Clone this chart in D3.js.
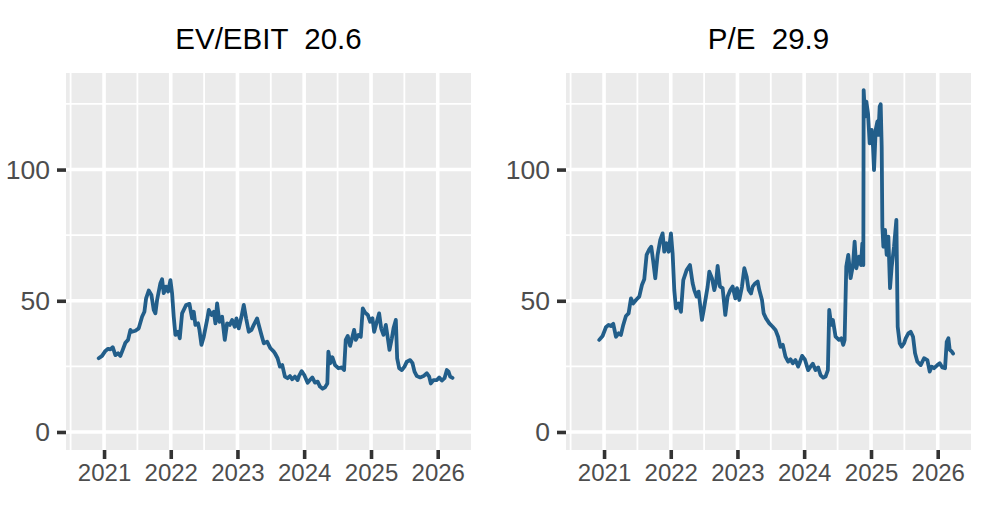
<!DOCTYPE html>
<html>
<head>
<meta charset="utf-8">
<script src="https://cdn.jsdelivr.net/npm/d3@7"></script>
<style>
  html, body { margin: 0; padding: 0; background: #ffffff; }
  svg { display: block; font-family: "Liberation Sans", Arial, sans-serif; }
</style>
</head>
<body>
<svg id="chart" width="1005" height="524"></svg>
<script>
// ---------------- data (time in decimal years) ----------------
const evYear = [2020.920,2020.970,2021.020,2021.060,2021.095,2021.130,2021.170,2021.210,2021.245,2021.280,
  2021.320,2021.360,2021.395,2021.420,2021.470,2021.520,2021.570,2021.605,2021.630,2021.670,
  2021.710,2021.745,2021.770,2021.795,2021.845,2021.870,2021.895,2021.930,2021.960,2021.995,
  2022.020,2022.045,2022.070,2022.110,2022.135,2022.170,2022.230,2022.280,2022.320,2022.345,
  2022.370,2022.410,2022.430,2022.460,2022.495,2022.545,2022.570,2022.610,2022.645,2022.670,
  2022.695,2022.730,2022.770,2022.810,2022.845,2022.885,2022.920,2022.960,2022.985,2023.020,
  2023.060,2023.095,2023.130,2023.170,2023.210,2023.245,2023.295,2023.320,2023.360,2023.395,
  2023.445,2023.495,2023.545,
  2023.562,2023.602,2023.637,2023.672,2023.712,2023.752,2023.787,2023.822,2023.862,2023.902,
  2023.922,2023.962,2024.002,2024.052,2024.087,2024.122,2024.162,2024.202,2024.237,2024.277,
  2024.312,2024.347,2024.362,2024.392,2024.422,2024.462,2024.512,2024.562,2024.597,2024.622,
  2024.652,2024.687,2024.722,2024.747,2024.772,2024.812,2024.847,2024.877,2024.912,2024.952,
  2024.987,2025.022,2025.047,2025.087,2025.122,2025.152,2025.187,2025.222,2025.252,2025.277,
  2025.312,2025.337,2025.372,2025.392,2025.422,2025.462,2025.502,2025.537,2025.587,2025.622,
  2025.652,2025.687,2025.737,2025.787,2025.837,2025.872,2025.897,2025.937,2025.987,2026.022,
  2026.062,2026.102,2026.137,2026.162,2026.187,2026.222];
const evValue = [28.1,29.0,30.9,31.7,31.5,32.3,29.3,30.0,29.0,31.3,
  34.0,35.1,38.9,38.2,38.6,39.5,43.9,45.8,50.9,53.9,
  52.2,46.5,45.2,50.3,56.7,58.2,52.9,55.4,53.5,57.9,
  52.9,43.9,37.0,38.2,35.7,45.2,48.4,48.8,43.3,45.8,
  40.8,41.4,38.9,33.2,36.3,42.7,46.5,44.6,45.8,41.4,
  49.0,42.0,43.9,35.1,41.4,40.8,42.7,40.1,43.3,39.5,
  43.9,48.4,43.3,38.2,38.9,40.8,43.3,40.8,37.0,33.8,
  34.4,31.9,30.6,
  30.0,28.1,24.9,25.5,21.1,20.5,21.3,20.1,21.1,19.8,
  21.3,23.2,21.7,18.8,19.8,20.8,18.8,19.2,17.3,16.5,
  17.0,18.5,30.6,26.2,28.5,25.5,24.3,24.6,23.6,35.1,
  36.6,32.8,36.3,38.9,35.1,37.0,36.3,47.1,45.5,44.6,
  42.0,43.3,38.2,42.0,45.2,39.5,37.0,40.8,35.7,31.3,
  35.7,39.5,42.7,28.1,24.3,23.6,24.9,26.8,27.4,26.2,
  23.0,21.3,20.8,21.3,22.4,21.1,18.5,19.8,19.8,20.8,
  19.6,20.5,23.6,23.0,21.1,20.6];

const peYear = [2020.928,2020.978,2021.028,2021.068,2021.103,2021.138,2021.178,2021.218,2021.253,2021.288,
  2021.328,2021.368,2021.403,2021.438,2021.478,2021.528,2021.568,2021.603,2021.638,2021.678,
  2021.708,2021.738,2021.768,2021.803,2021.843,2021.878,2021.903,2021.938,2021.968,2022.003,
  2022.028,2022.053,2022.078,2022.118,2022.153,2022.188,2022.238,2022.288,2022.328,2022.353,
  2022.388,2022.418,2022.438,2022.468,2022.503,2022.553,2022.578,2022.618,2022.653,2022.678,
  2022.703,2022.738,2022.778,2022.818,2022.853,2022.893,2022.928,2022.968,2022.993,2023.028,
  2023.068,2023.103,2023.138,2023.168,2023.203,2023.228,2023.268,2023.303,2023.328,2023.368,
  2023.393,2023.428,2023.478,2023.528,
  2023.570,2023.610,2023.645,2023.680,2023.720,2023.760,2023.795,2023.830,2023.870,2023.910,
  2023.930,2023.970,2024.010,2024.060,2024.095,2024.130,2024.170,2024.210,2024.245,2024.285,
  2024.320,2024.355,2024.375,2024.405,2024.430,2024.470,2024.520,2024.555,2024.585,2024.605,
  2024.630,2024.660,2024.695,2024.730,2024.755,2024.780,2024.820,2024.850,2024.870,2024.885,
  2024.890,2024.910,2024.930,2024.955,2024.980,2025.010,2025.030,2025.045,2025.070,2025.095,
  2025.110,2025.130,2025.145,2025.160,2025.170,2025.185,2025.210,2025.235,2025.260,2025.285,
  2025.310,2025.345,2025.380,2025.400,2025.430,2025.460,2025.495,2025.520,2025.560,2025.595,
  2025.630,2025.660,2025.695,2025.745,2025.795,2025.845,2025.880,2025.910,2025.945,2025.995,
  2026.030,2026.070,2026.110,2026.135,2026.160,2026.180,2026.210,2026.230];
const peValue = [35.1,36.6,39.9,40.8,40.4,41.2,36.3,37.6,37.0,40.8,
  44.2,45.2,50.9,49.0,50.3,51.6,56.0,58.2,67.5,69.6,
  70.6,64.9,58.6,67.5,73.2,75.7,68.7,71.9,68.7,75.7,
  68.1,54.1,47.1,49.0,45.8,57.9,61.7,63.6,56.7,54.1,
  51.6,53.5,49.0,42.7,47.8,55.4,61.1,58.6,54.1,56.7,
  63.3,55.4,54.8,44.6,51.6,54.1,55.4,50.9,54.8,50.3,
  55.4,62.4,59.2,54.1,52.8,55.4,56.7,57.3,54.1,50.3,
  45.2,43.3,41.4,40.1,
  38.9,36.3,32.5,33.2,28.7,26.8,27.7,26.2,27.4,24.9,
  26.2,29.0,27.7,23.6,24.9,26.0,23.6,24.6,21.7,20.7,
  21.1,23.6,46.5,40.8,42.7,36.3,35.1,35.7,33.2,35.1,
  63.0,67.5,58.6,63.6,72.5,62.4,66.8,63.6,71.9,63.6,
  130.3,120.2,125.9,121.4,110.0,115.1,108.7,99.8,115.1,118.3,
  113.2,124.0,124.9,108.7,78.2,70.6,77.0,67.5,74.4,54.8,
  63.0,70.6,80.8,40.1,33.8,32.5,33.8,35.7,37.6,38.2,
  36.3,30.0,26.8,25.5,28.1,27.4,23.0,24.9,24.3,25.5,
  26.2,24.6,24.3,34.4,35.7,31.3,30.7,29.9];

const panelTitles = ["EV/EBIT  20.6", "P/E  29.9"];
const yTickValues = [0, 50, 100];
const yMinorValues = [25, 75, 125];
const xTickYears = [2021, 2022, 2023, 2024, 2025, 2026];
const xTickLabels = ["2021", "2022", "2023", "2024", "2025", "2026"];
const xMinorYears = [2020.5, 2021.5, 2022.5, 2023.5, 2024.5, 2025.5];

// ---------------- helpers ----------------
function yearToDate(y) {
  const yr = Math.floor(y);
  const s = Date.UTC(yr, 0, 1), e = Date.UTC(yr + 1, 0, 1);
  return new Date(s + (y - yr) * (e - s));
}

const svg = d3.select("#chart");
const panelTop = 73, panelBottom = 450, panelW = 405;
const panelLefts = [66, 566];

const y = d3.scaleLinear().domain([-6.86, 136.8]).range([panelBottom, panelTop]);

const series = [
  evYear.map((t, i) => ({ date: yearToDate(t), v: evValue[i] })),
  peYear.map((t, i) => ({ date: yearToDate(t), v: peValue[i] }))
];

panelLefts.forEach((left, p) => {
  const x = d3.scaleTime()
    .domain([yearToDate(2020.431), yearToDate(2026.499)])
    .range([left, left + panelW]);

  const clipId = "clip" + p;
  svg.append("clipPath").attr("id", clipId)
    .append("rect").attr("x", left).attr("y", panelTop)
    .attr("width", panelW).attr("height", panelBottom - panelTop);

  const g = svg.append("g");
  g.append("rect").attr("x", left).attr("y", panelTop)
    .attr("width", panelW).attr("height", panelBottom - panelTop)
    .attr("fill", "#EBEBEB");

  const grid = g.append("g").attr("clip-path", `url(#${clipId})`);
  // minor grid
  grid.selectAll(".hmin").data(yMinorValues).join("line")
    .attr("x1", left).attr("x2", left + panelW)
    .attr("y1", d => y(d)).attr("y2", d => y(d))
    .attr("stroke", "#fff").attr("stroke-width", 1.8);
  grid.selectAll(".vmin").data(xMinorYears).join("line")
    .attr("x1", d => x(yearToDate(d))).attr("x2", d => x(yearToDate(d)))
    .attr("y1", panelTop).attr("y2", panelBottom)
    .attr("stroke", "#fff").attr("stroke-width", 1.8);
  // major grid
  grid.selectAll(".hmaj").data(yTickValues).join("line")
    .attr("x1", left).attr("x2", left + panelW)
    .attr("y1", d => y(d)).attr("y2", d => y(d))
    .attr("stroke", "#fff").attr("stroke-width", 3.6);
  grid.selectAll(".vmaj").data(xTickYears).join("line")
    .attr("x1", d => x(yearToDate(d))).attr("x2", d => x(yearToDate(d)))
    .attr("y1", panelTop).attr("y2", panelBottom)
    .attr("stroke", "#fff").attr("stroke-width", 3.6);

  // line
  const line = d3.line().x(d => x(d.date)).y(d => y(d.v)).curve(d3.curveLinear);
  g.append("path").datum(series[p])
    .attr("clip-path", `url(#${clipId})`)
    .attr("d", line)
    .attr("fill", "none")
    .attr("stroke", "#225E8A")
    .attr("stroke-width", 3.8)
    .attr("stroke-linejoin", "round")
    .attr("stroke-linecap", "round");

  // y axis
  const yAxis = d3.axisLeft(y).tickValues(yTickValues).tickSize(9).tickPadding(7).tickFormat(d3.format("d"));
  const ya = svg.append("g").attr("transform", `translate(${left},0)`).call(yAxis);
  ya.select(".domain").remove();
  ya.selectAll(".tick line").attr("stroke", "#333333").attr("stroke-width", 3.6);
  ya.selectAll(".tick text").attr("fill", "#4D4D4D")
    .style("font-size", "26.5px").style("font-family", "'Liberation Sans', Arial, sans-serif");

  // x axis
  const xAxis = d3.axisBottom(x).tickValues(xTickYears.map(yearToDate)).tickSize(9).tickPadding(5)
    .tickFormat((d, i) => xTickLabels[i]);
  const xa = svg.append("g").attr("transform", `translate(0,${panelBottom})`).call(xAxis);
  xa.select(".domain").remove();
  xa.selectAll(".tick line").attr("stroke", "#333333").attr("stroke-width", 3.6);
  xa.selectAll(".tick text").attr("fill", "#4D4D4D")
    .style("font-size", "24px").style("font-family", "'Liberation Sans', Arial, sans-serif");

  // title
  svg.append("text")
    .attr("x", left + panelW / 2).attr("y", 49.3)
    .attr("text-anchor", "middle")
    .style("white-space", "pre")
    .style("font-size", "29.5px")
    .attr("fill", "#000")
    .text(panelTitles[p]);
});
</script>
</body>
</html>
